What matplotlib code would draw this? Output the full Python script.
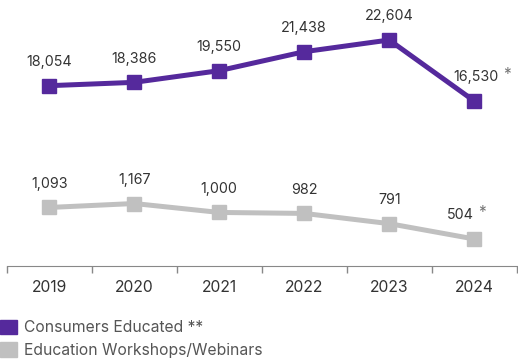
import matplotlib.pyplot as plt
from matplotlib.patches import Patch

plt.rcParams['font.family'] = ['Inter', 'DejaVu Sans']

years = ['2019', '2020', '2021', '2022', '2023', '2024']
consumers = [18054, 18386, 19550, 21438, 22604, 16530]
workshops = [1093, 1167, 1000, 982, 791, 504]
starred = [False, False, False, False, False, True]

purple = '#55299c'
grey = '#c0c0c0'
txt = '#333333'

fig = plt.figure(figsize=(5.18, 3.6), dpi=100)
ax = fig.add_axes([6.7 / 518, 94 / 360, 510 / 518, 266 / 360])
ax2 = ax.twinx()

x = list(range(len(years)))
ax.plot(x, consumers, color=purple, lw=3.6, marker='s', ms=10.5, solid_joinstyle='miter')
ax2.plot(x, workshops, color=grey, lw=3.6, marker='s', ms=10.5, solid_joinstyle='miter')

ax.set_ylim(94, 26588)
ax2.set_ylim(-1, 4971)
ax.set_xlim(-0.5, len(years) - 0.5)

# (axis, values, x shift of the starred label in points)
for a, vals, dx in ((ax, consumers, 1.5), (ax2, workshops, -10)):
    for i, v in enumerate(vals):
        shift = dx if starred[i] else 0
        lab = a.annotate(f'{v:,}', (i, v), xytext=(shift, 17), textcoords='offset points',
                         ha='center', va='center', fontsize=10.3, color=txt)
        if starred[i]:
            a.annotate('*', xy=(1, 0.7), xycoords=lab, xytext=(3, 0),
                       textcoords='offset points', ha='left', va='center',
                       fontsize=11, color='#777777')

for a in (ax, ax2):
    for s in ('top', 'right', 'left'):
        a.spines[s].set_visible(False)
    a.set_yticks([])
ax2.spines['bottom'].set_visible(False)
ax.spines['bottom'].set_color('#888888')

ax.set_xticks(x)
ax.set_xticklabels(years, fontsize=11.3, color=txt)
ax.tick_params(axis='x', which='major', length=0, pad=10)
ax.set_xticks([i - 0.5 for i in range(len(years) + 1)], minor=True)
ax.tick_params(axis='x', which='minor', length=5, color='#888888', width=1)

handles = [Patch(color=purple), Patch(color=grey)]
fig.legend(handles, ['Consumers Educated **', 'Education Workshops/Webinars'],
           loc='upper left', bbox_to_anchor=(-0.012, 0.129), frameon=False,
           fontsize=11.3, labelcolor='#555555', handlelength=1.05, handleheight=1.05,
           handletextpad=0.45, labelspacing=0.42, borderaxespad=0)

fig.savefig('out.png', dpi=100)
